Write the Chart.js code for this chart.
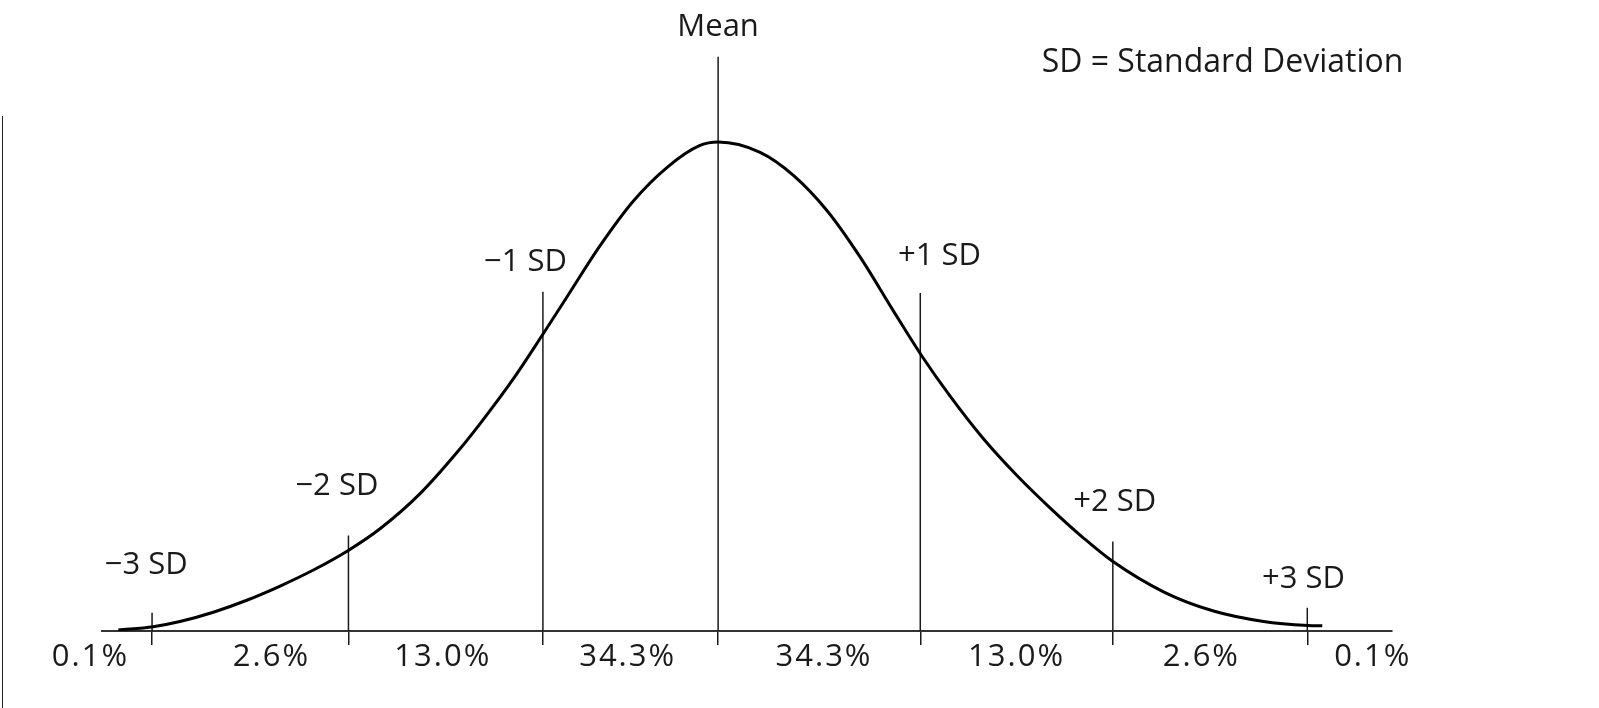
<!DOCTYPE html>
<html>
<head>
<meta charset="utf-8">
<script src="https://cdn.jsdelivr.net/npm/chart.js@4.4.1/dist/chart.umd.min.js"></script>
<style>
  html, body { margin: 0; padding: 0; background: #fff; }
  #wrap { position: relative; width: 1599px; height: 708px; }
  #edge { position: absolute; left: 2px; top: 116px; bottom: 0; border-left: 1.5px solid #222; }
</style>
</head>
<body>
<div id="wrap">
  <canvas id="bellChart" width="1599" height="708"></canvas>
  <div id="edge"></div>
</div>
<script>
// bell curve: x in SD units, y as density
var curveX = [-3.115, -2.934, -2.795, -2.622, -2.448, -2.275, -2.102, -1.921, -1.756, -1.548, -1.349, -1.236, -1.063,
              -0.916, -0.786, -0.613, -0.440, -0.266, -0.094, 0,
              0.218, 0.391, 0.565, 0.738, 0.911, 1.058, 1.205, 1.378, 1.552, 1.725, 1.898, 2.045, 2.313, 2.573,
              2.833, 3.065, 3.138];
var curveY = [0.0008, 0.0035, 0.0077, 0.0153, 0.0251, 0.0367, 0.0498, 0.0658, 0.0835, 0.1122, 0.1472, 0.1694, 0.2061,
              0.2409, 0.2726, 0.3147, 0.3512, 0.3785, 0.3965, 0.3993,
              0.3909, 0.3721, 0.3434, 0.3053, 0.2612, 0.2246, 0.1918, 0.1570, 0.1270, 0.1004, 0.0759, 0.0573, 0.0320,
              0.0163, 0.0078, 0.0045, 0.0042];

// vertical marker lines
var markerX = [-2.94, -1.92, -0.91, 0, 1.05, 2.05, 3.06];
var markerTop = [0.015, 0.078, 0.277, 0.469, 0.276, 0.073, 0.019];
var markerLabels = ["\u22123 SD", "\u22122 SD", "\u22121 SD", "Mean", "+1 SD", "+2 SD", "+3 SD"];
var markerLabelX = [-2.97, -1.98, -1.00, 0, 1.15, 2.06, 3.04];
var markerLabelY = [0.054, 0.118, 0.301, 0.493, 0.306, 0.105, 0.042];

// share of cases between the markers
var pctLabels = ["0.1%", "2.6%", "13.0%", "34.3%", "34.3%", "13.0%", "2.6%", "0.1%"];
var pctX = [-3.26, -2.32, -1.43, -0.47, 0.55, 1.55, 2.51, 3.40];
var pctY = -0.021;

var noteText = "SD = Standard Deviation";
var noteX = 2.62;
var noteY = 0.464;

var ink = "#1a1a1a";
var fontFamily = "'Open Sans', sans-serif";

var datasets = [{
  data: curveX.map(function (x, i) { return { x: x, y: curveY[i] }; }),
  borderColor: "#000",
  borderWidth: 3,
  pointRadius: 0,
  cubicInterpolationMode: "monotone",
  fill: false
}];
markerX.forEach(function (x, i) {
  datasets.push({
    data: [{ x: x, y: 0 }, { x: x, y: markerTop[i] }],
    borderColor: ink,
    borderWidth: 1.5,
    pointRadius: 0
  });
});

var textPlugin = {
  id: "bellText",
  afterDatasetsDraw: function (chart) {
    var c = chart.ctx;
    var xs = chart.scales.x, ys = chart.scales.y;
    c.save();
    c.fillStyle = ink;
    c.textAlign = "center";
    c.textBaseline = "middle";
    c.font = "31px " + fontFamily;
    markerLabels.forEach(function (t, i) {
      c.fillText(t, xs.getPixelForValue(markerLabelX[i]), ys.getPixelForValue(markerLabelY[i]));
    });
    c.font = "32px " + fontFamily;
    c.fillText(noteText, xs.getPixelForValue(noteX), ys.getPixelForValue(noteY));
    c.font = "31px " + fontFamily;
    c.letterSpacing = "2px";
    pctLabels.forEach(function (t, i) {
      c.fillText(t, xs.getPixelForValue(pctX[i]), ys.getPixelForValue(pctY));
    });
    c.restore();
  }
};

new Chart("bellChart", {
  type: "line",
  data: { datasets: datasets },
  options: {
    responsive: false,
    animation: false,
    events: [],
    layout: { padding: { left: 102, right: 207, top: 31, bottom: 63 } },
    plugins: { legend: { display: false }, tooltip: { enabled: false } },
    scales: {
      x: {
        type: "linear",
        min: -3.2,
        max: 3.5,
        afterBuildTicks: function (scale) {
          scale.ticks = markerX.map(function (v) { return { value: v }; });
        },
        ticks: { display: false },
        grid: { drawOnChartArea: false, drawTicks: true, tickLength: 14, color: ink, lineWidth: 1.5 },
        border: { display: true, color: "#333", width: 2 }
      },
      y: {
        display: false,
        min: 0,
        max: 0.49
      }
    }
  },
  plugins: [textPlugin]
});
</script>
</body>
</html>
